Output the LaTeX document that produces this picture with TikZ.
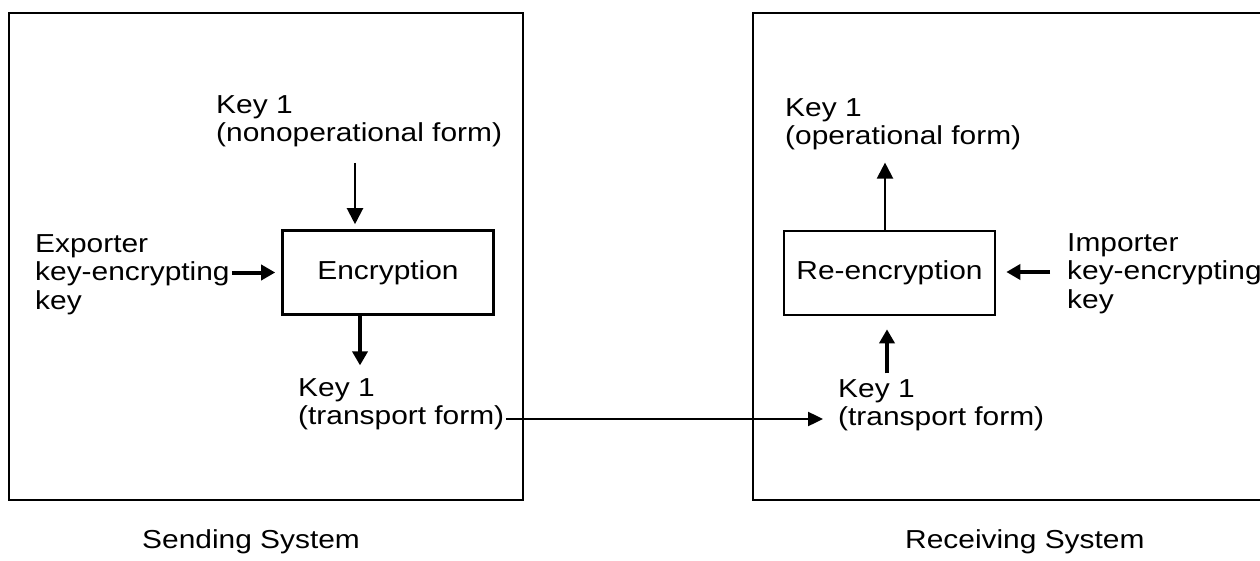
\documentclass[tikz,border=0pt]{standalone}
\usepackage{fontspec}
\setmainfont[FakeStretch=1.15]{Liberation Sans}
\usetikzlibrary{arrows.meta}
\tikzset{
  lbl/.style={font=\fontsize{26}{28.5}\selectfont, inner sep=0pt, align=left, anchor=north west},
  sys/.style={font=\fontsize{26}{28.5}\selectfont, inner sep=0pt, anchor=base west},
  bigbox/.style={draw, line width=2.6pt},
  procbox/.style={draw, line width=2.6pt, minimum width=211pt, minimum height=84pt, inner sep=0pt, font=\fontsize{26}{28.5}\selectfont},
  thinarrow/.style={line width=2.2pt, -{Triangle[length=16pt,width=16pt]}},
  thickarrow/.style={line width=4pt, -{Triangle[length=14pt,width=15pt]}},
  link/.style={line width=2.4pt, -{Triangle[length=15pt,width=14pt]}}
}
\begin{document}
\begin{tikzpicture}[x=1pt,y=-1pt]
\useasboundingbox (0,0) rectangle (1260,561);
\clip (0,0) rectangle (1260,561);
\fill[white] (0,0) rectangle (1260,561);
% system boxes
\draw[bigbox] (9,13) rectangle (523,500);
\draw[bigbox] (753,13) rectangle (1280,500);
% sending side
\node[procbox] (enc) at (388,272.5) {Encryption};
\node[lbl] (nonop) at (216,95.4) {Key 1\\(nonoperational form)};
\node[lbl] (exp) at (35,234.4) {Exporter\\key-encrypting\\key};
\node[lbl] (tl) at (298,378.4) {Key 1\\(transport form)};
% receiving side
\node[procbox] (renc) at (889.5,273) {Re-encryption};
\node[lbl] (oper) at (785,98.4) {Key 1\\(operational form)};
\node[lbl] (imp) at (1067,233.4) {Importer\\key-encrypting\\key};
\node[lbl] (tr) at (838,379.4) {Key 1\\(transport form)};
% captions
\node[sys] (snd) at (142,548) {Sending System};
\node[sys] (rcv) at (905,548) {Receiving System};
% connectors
\coordinate (ax1) at (355,163);
\draw[thinarrow, shorten >=5pt] (ax1) -- (ax1 |- enc.north);
\draw[thickarrow, shorten <=2pt, shorten >=6pt] (exp.east |- enc.west) -- (enc.west);
\coordinate (ax2) at (360,0);
\draw[thickarrow, shorten >=13pt] (ax2 |- enc.south) -- (ax2 |- tl.north);
\coordinate (hy) at (0,419);
\draw[link, shorten <=2pt, shorten >=15pt] (tl.east |- hy) -- (tr.west |- hy);
\coordinate (ax3) at (885,0);
\draw[thinarrow, shorten >=12pt] (ax3 |- renc.north) -- (ax3 |- oper.south);
\coordinate (iy) at (0,272);
\draw[thickarrow, shorten <=17pt, shorten >=10pt] (imp.west |- iy) -- (renc.east |- iy);
\coordinate (ax4) at (887,0);
\draw[thickarrow, shorten <=6pt, shorten >=13pt] (ax4 |- tr.north) -- (ax4 |- renc.south);
\end{tikzpicture}
\end{document}
